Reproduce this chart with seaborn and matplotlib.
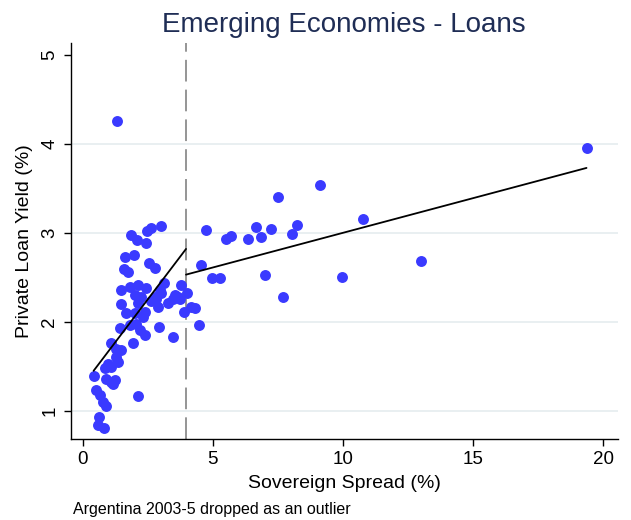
import numpy as np
import pandas as pd
import matplotlib
matplotlib.use("Agg")
import matplotlib.pyplot as plt
import seaborn as sns

# Sovereign spread (%) and private loan yield (%) per country-year
spread = [
    19.35, 9.12, 7.49, 10.75, 4.75, 6.65, 7.22, 8.23, 8.05, 5.49,
    5.71, 6.35, 6.84, 4.53, 4.95, 5.26, 7.00, 9.95, 13.0, 7.71,
    4.45, 3.79, 4.02, 3.72, 3.90, 4.15, 4.30,
    1.31, 3.01, 2.48, 2.63, 1.87, 2.08, 2.43, 1.61, 1.97, 1.59,
    1.74, 2.53, 2.76, 3.12, 1.49, 1.80, 2.12, 2.45, 2.00, 2.25,
    2.76, 3.02, 3.53, 3.27, 1.49, 2.12, 2.63, 1.68, 2.38, 2.89,
    3.66, 3.47, 2.96, 2.83, 2.92, 3.47, 1.42, 1.80, 2.06, 2.19,
    2.38, 1.93, 1.10, 1.29, 1.49, 1.29, 1.36, 0.97, 1.10, 0.84,
    0.42, 0.91, 1.10, 1.23, 1.17, 2.12, 0.53, 0.65, 0.78, 0.91,
    0.63, 0.59, 0.81, 2.30, 2.00,
]
loan_yield = [
    3.955, 3.54, 3.40, 3.16, 3.03, 3.07, 3.04, 3.09, 2.99, 2.93,
    2.97, 2.93, 2.95, 2.64, 2.49, 2.49, 2.53, 2.50, 2.69, 2.28,
    1.96, 2.42, 2.32, 2.26, 2.11, 2.17, 2.155,
    4.26, 3.08, 3.02, 3.06, 2.98, 2.92, 2.89, 2.73, 2.75, 2.60,
    2.56, 2.66, 2.61, 2.44, 2.36, 2.39, 2.41, 2.38, 2.30, 2.28,
    2.28, 2.32, 2.30, 2.21, 2.20, 2.21, 2.23, 2.10, 2.11, 2.17,
    2.28, 2.26, 2.36, 2.26, 1.94, 1.83, 1.93, 1.96, 1.98, 1.91,
    1.85, 1.76, 1.76, 1.70, 1.68, 1.61, 1.55, 1.53, 1.49, 1.48,
    1.39, 1.36, 1.33, 1.35, 1.30, 1.17, 1.23, 1.18, 1.10, 1.05,
    0.93, 0.84, 0.81, 2.05, 2.10,
]

# Threshold separating the two regimes and the fitted line on each side
break_spread = 3.97
low_fit = {"intercept": 1.288, "slope": 0.386}
high_fit = {"intercept": 2.222, "slope": 0.078}

x_ticks = [0, 5, 10, 15, 20]
y_ticks = [1, 2, 3, 4, 5]
grid_levels = [1, 2, 3, 4]

df = pd.DataFrame({"spread": spread, "loan_yield": loan_yield})

sns.set_style("white")
plt.rcParams["font.family"] = ["Liberation Sans", "DejaVu Sans"]
plt.rcParams["text.color"] = "black"
plt.rcParams["axes.labelcolor"] = "black"
plt.rcParams["xtick.color"] = "black"
plt.rcParams["ytick.color"] = "black"

fig = plt.figure(figsize=(6.31, 5.20), dpi=100)
ax = fig.add_axes([0.112, 0.156, 0.867, 0.762])

for lvl in grid_levels:
    ax.axhline(lvl, color="#e9eff1", lw=1.4, zorder=0)

ax.axvline(break_spread, color="#8c8c8c", lw=1.3,
           linestyle=(0, (12, 4.5)), zorder=1)

sns.scatterplot(data=df, x="spread", y="loan_yield", ax=ax,
                color="#3a3aff", s=62, linewidth=0, zorder=3, legend=False)

lo_x = np.array([df["spread"].min(), break_spread])
hi_x = np.array([break_spread, df["spread"].max()])
fits = pd.DataFrame({
    "x": np.concatenate([lo_x, hi_x]),
    "y": np.concatenate([low_fit["intercept"] + low_fit["slope"] * lo_x,
                         high_fit["intercept"] + high_fit["slope"] * hi_x]),
    "segment": ["low", "low", "high", "high"],
})
sns.lineplot(data=fits, x="x", y="y", units="segment", estimator=None,
             color="black", lw=1.3, ax=ax, zorder=4, legend=False)

ax.set_xlim(-0.46, 20.55)
ax.set_ylim(0.685, 5.14)
ax.set_xticks(x_ticks)
ax.set_yticks(y_ticks)
ax.set_xticklabels([str(t) for t in x_ticks])
ax.set_yticklabels([str(t) for t in y_ticks], rotation=90, va="center")
ax.tick_params(axis="both", direction="out", length=5, width=1,
               color="black", labelcolor="black", labelsize=13.5, pad=4,
               left=True, bottom=True)

for side in ["top", "right"]:
    ax.spines[side].set_visible(False)
for side in ["left", "bottom"]:
    ax.spines[side].set_color("black")
    ax.spines[side].set_linewidth(1)

ax.set_xlabel("Sovereign Spread (%)", fontsize=14, labelpad=5, color="black")
ax.set_ylabel("Private Loan Yield (%)", fontsize=14, labelpad=6, color="black")
ax.set_title("Emerging Economies - Loans", fontsize=20, color="#1f2d55", pad=8)

fig.text(0.116, 0.006, "Argentina 2003-5 dropped as an outlier",
         fontsize=11.5, color="black", ha="left", va="bottom")

fig.savefig("out.png", dpi=100)
